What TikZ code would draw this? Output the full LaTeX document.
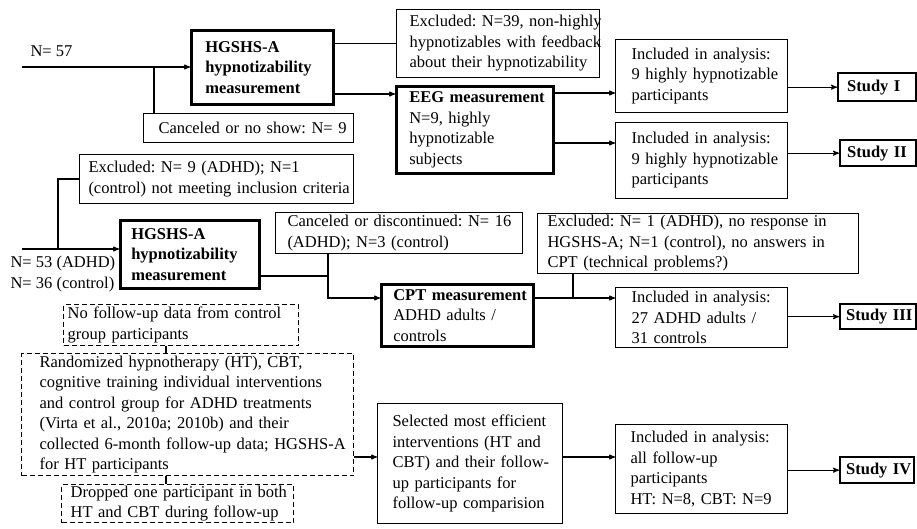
\documentclass[tikz,border=0pt]{standalone}
\usepackage{fontspec}
\setmainfont{Liberation Serif}
\usetikzlibrary{positioning,arrows}
\newcommand{\boxfont}{\fontsize{16.5}{20.5}\selectfont\frenchspacing\hyphenpenalty=10000 \exhyphenpenalty=10000 }
\tikzset{
  >=stealth',
  bx/.style n args={3}{draw, line width=1pt, anchor=north west, inner xsep=2pt, inner ysep=1pt,
    align=left, font=\boxfont, minimum width=#1pt, minimum height=#2pt,
    text width=#1pt-4pt, execute at begin node={\leftskip=#3pt}},
  thickbx/.style={line width=2.6pt},
  hdr/.style={font=\boxfont\bfseries},
  studybx/.style={thickbx, line width=2.3pt, hdr},
  dashbx/.style={dash pattern=on 5pt off 3pt, line width=1.3pt},
  lbl/.style={inner sep=0pt, align=left, font=\boxfont},
}

\begin{document}
\begin{tikzpicture}[x=1pt, y=-1pt, line width=1.1pt]
  \useasboundingbox (0,0) rectangle (917,529);

  % hypnotizability sample
  \node[bx={142}{74}{12}, thickbx, hdr] (hg1) at (190,29) {HGSHS-A\\hypnotizability\\measurement};
  \node[bx={210}{29}{13}] (cancel1) at (143,113) {Canceled or no show: N= 9};
  \node[bx={203}{68}{11}] (excl1) at (396,9) {Excluded:~N=39,~non-highly\\hypnotizables~with~feedback\\about their hypnotizability};
  \node[bx={157}{87}{11}, thickbx] (eeg) at (395,85) {\textbf{EEG measurement}\\N=9, highly\\hypnotizable\\subjects};
  \node[bx={172}{73}{14}] (inc1) at (615,39) {Included in analysis:\\9 highly hypnotizable\\participants};
  \node[bx={172}{76}{14}] (inc2) at (615,122) {Included in analysis:\\9 highly hypnotizable\\participants};
  \node[bx={78}{28}{7}, studybx] (st1) at (837,72) {Study I};
  \node[bx={76}{26}{5}, studybx] (st2) at (839,139) {Study II};
  \node[lbl, anchor=west] (n57) at (30,51) {N= 57};

  % ADHD sample
  \node[bx={274}{49}{7}] (excl2) at (79,154) {Excluded: N= 9 (ADHD);\ N=1\\(control) not meeting inclusion criteria};
  \node[bx={139}{68}{9}, thickbx, hdr] (hg2) at (119,219) {HGSHS-A\\hypnotizability\\measurement};
  \node[bx={247}{41}{10}] (cancel2) at (275,212) {Canceled or discontinued: N= 16\\(ADHD); N=3 (control)};
  \node[bx={321}{60}{8}] (excl3) at (537,213) {Excluded: N= 1 (ADHD), no response in\\HGSHS-A; N=1 (control), no answers in\\CPT (technical problems?)};
  \node[bx={152}{62}{10}, thickbx] (cpt) at (380,283) {\textbf{CPT measurement}\\ADHD adults /\\controls};
  \node[bx={172}{60}{14}] (inc3) at (615,287) {Included in analysis:\\27 ADHD adults /\\31 controls};
  \node[bx={76}{25}{4}, studybx] (st3) at (839,303) {Study III};
  \node[lbl, anchor=west] (n53) at (10,274) {N= 53 (ADHD)\\N= 36 (control)};

  % follow-up
  \node[bx={235}{41}{2}, dashbx] (nofu) at (63,304) {No follow-up data from control\\group participants};
  \node[bx={332}{122}{16}, dashbx] (rand) at (21,353) {Randomized hypnotherapy (HT), CBT,\\cognitive training individual interventions\\and control group for ADHD treatments\\(Virta et al., 2010a; 2010b) and their\\collected 6-month follow-up data; HGSHS-A\\for HT participants};
  \node[bx={232}{38}{7}, dashbx] (drop) at (61,484) {Dropped one participant in both\\HT and CBT during follow-up};
  \node[bx={185}{120}{13}] (sel) at (377,403) {Selected most efficient\\interventions (HT and\\CBT) and their follow-\\up participants for\\follow-up comparision};
  \node[bx={172}{89}{13}] (inc4) at (615,424) {Included in analysis:\\all follow-up\\participants\\HT: N=8, CBT: N=9};
  \node[bx={74}{26}{4}, studybx] (st4) at (839,456) {Study IV};

  \coordinate (in1) at (22,67);
  \coordinate (br1) at (154,67);
  \coordinate (eegin) at (0,94);
  \coordinate (inc1in) at (0,93);
  \coordinate (inc2in) at (0,143);
  \coordinate (in2) at (22,249);
  \coordinate (br2) at (58,249);
  \coordinate (j2) at (328,276);
  \coordinate (cptin) at (0,298);
  \coordinate (j3) at (573,298);
  \coordinate (fu) at (166,0);
  \coordinate (selin) at (0,457);

  \draw[->] (in1) -- (in1 -| hg1.west);
  \draw (br1) -- (br1 |- cancel1.north);
  \draw (hg1.east |- excl1.west) -- (excl1.west);
  \draw[->] (hg1.east |- eegin) -- (eeg.west |- eegin);
  \draw[->] (eeg.east |- inc1in) -- (inc1.west |- inc1in);
  \draw[->] (eeg.east |- inc2in) -- (inc2.west |- inc2in);
  \draw[->] (inc1.east |- st1.west) -- (st1.west);
  \draw[->] (inc2.east |- st2.west) -- (st2.west);

  \draw[->] (in2) -- (in2 -| hg2.west);
  \draw (br2) |- (excl2.west);
  \draw (hg2.east |- j2) -- (j2);
  \draw[->] (cancel2.south -| j2) |- (cpt.west |- cptin);
  \draw[->] (cpt.east |- cptin) -- (inc3.west |- cptin);
  \draw (excl3.south -| j3) -- (j3);
  \draw[->] (inc3.east |- st3.west) -- (st3.west);

  \draw (nofu.south -| fu) -- (rand.north -| fu);
  \draw (rand.south -| fu) -- (drop.north -| fu);
  \draw[->] (rand.east |- selin) -- (sel.west |- selin);
  \draw[->] (sel.east |- selin) -- (inc4.west |- selin);
  \draw[->] (inc4.east |- st4.west) -- (st4.west);
\end{tikzpicture}
\end{document}
